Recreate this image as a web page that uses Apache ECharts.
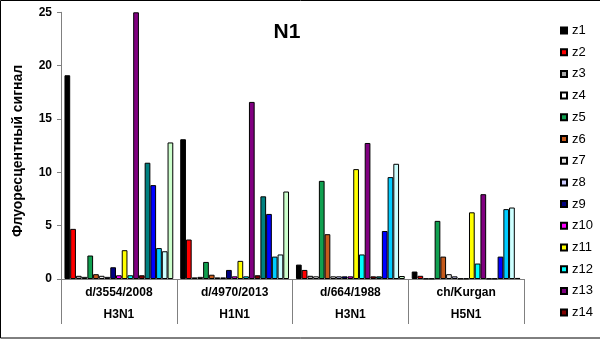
<!DOCTYPE html>
<html>
<head>
<meta charset="utf-8">
<script src="https://cdn.jsdelivr.net/npm/echarts@6/dist/echarts.min.js"></script>
<style>
  html, body { margin: 0; padding: 0; background: #fff; }
  #chart { width: 600px; height: 339px; }
</style>
</head>
<body>
<div id="chart"></div>
<script>
// Virus strains (first label row) and their subtypes (second label row)
const strains = ['d/3554/2008', 'd/4970/2013', 'd/664/1988', 'ch/Kurgan'];
const subtypes = ['H3N1', 'H1N1', 'H3N1', 'H5N1'];

// Fluorescent signal per probe, one value per strain
const z1  = [19.1, 13.1, 1.35, 0.7];
const z2  = [4.7, 3.7, 0.85, 0.3];
const z3  = [0.3, 0.15, 0.3, 0.05];
const z4  = [0.2, 0.2, 0.25, 0.05];
const z5  = [2.2, 1.6, 9.2, 5.45];
const z6  = [0.45, 0.4, 4.2, 2.1];
const z7  = [0.3, 0.15, 0.25, 0.45];
const z8  = [0.2, 0.15, 0.25, 0.25];
const z9  = [1.1, 0.85, 0.25, 0.05];
const z10 = [0.35, 0.25, 0.25, 0.05];
const z11 = [2.7, 1.7, 10.3, 6.25];
const z12 = [0.35, 0.25, 2.3, 1.45];
const z13 = [25, 16.6, 12.75, 7.95];
const z14 = [0.35, 0.35, 0.25, 0.05];
const z15 = [10.9, 7.75, 0.25, 0.05];
const z16 = [8.8, 6.1, 4.5, 2.1];
const z17 = [2.9, 2.1, 9.55, 6.55];
const z18 = [2.6, 2.3, 10.8, 6.7];
const z19 = [12.8, 8.2, 0.28, 0.1];

const probeNames = ['z1','z2','z3','z4','z5','z6','z7','z8','z9','z10',
                    'z11','z12','z13','z14','z15','z16','z17','z18','z19'];
const probeValues = [z1, z2, z3, z4, z5, z6, z7, z8, z9, z10,
                     z11, z12, z13, z14, z15, z16, z17, z18, z19];
const probeColors = ['#000000','#FF0000','#A6A6A6','#FFFFFF','#10A050','#C55A1C',
                     '#E6E6E6','#CCCCFF','#000080','#FF00FF','#FFFF00','#00FFFF',
                     '#800080','#800000','#008080','#0000FF','#00CCFF','#CCFFFF','#CCFFCC'];
// Only the first fourteen probes fit in the legend
const legendNames = probeNames.slice(0, 14);

const font = 'Arial, "Liberation Sans", sans-serif';

const chart = echarts.init(document.getElementById('chart'), null, { renderer: 'canvas' });

const series = probeNames.map((name, i) => ({
  name: name,
  type: 'bar',
  data: probeValues[i],
  barGap: '0%',
  barCategoryGap: '6%',
  itemStyle: {
    color: probeColors[i],
    borderColor: '#000',
    borderWidth: 1
  },
  emphasis: { disabled: true },
  animation: false
}));

chart.setOption({
  animation: false,
  backgroundColor: '#fff',
  title: {
    text: 'N1',
    left: 282,
    top: 17,
    textAlign: 'center',
    textStyle: { fontFamily: font, fontWeight: 'bold', fontSize: 21, color: '#000' }
  },
  grid: { left: 61, right: 76, top: 12.3, bottom: 60, containLabel: false },
  legend: {
    data: legendNames,
    orient: 'vertical',
    left: 555,
    top: 19,
    itemWidth: 6,
    itemHeight: 6,
    itemGap: 8.7,
    icon: 'rect',
    selectedMode: false,
    textStyle: { fontFamily: font, fontSize: 13, color: '#000', lineHeight: 13 }
  },
  xAxis: {
    type: 'category',
    data: strains,
    axisLine: { lineStyle: { color: '#808080', width: 1 } },
    axisTick: { show: true, length: 45, lineStyle: { color: '#808080', width: 1 } },
    axisLabel: {
      interval: 0,
      margin: 3,
      formatter: (v, idx) => '{a|' + v + '}\n{b|' + subtypes[idx] + '}',
      rich: {
        a: { fontFamily: font, fontWeight: 'bold', fontSize: 12, color: '#000', lineHeight: 22 },
        b: { fontFamily: font, fontWeight: 'bold', fontSize: 12, color: '#000', lineHeight: 22 }
      }
    }
  },
  yAxis: {
    type: 'value',
    min: 0,
    max: 25,
    interval: 5,
    axisLine: { show: true, lineStyle: { color: '#808080', width: 1 } },
    axisTick: { show: true, length: 4, lineStyle: { color: '#808080' } },
    splitLine: { show: false },
    axisLabel: { margin: 9, fontFamily: font, fontWeight: 'bold', fontSize: 12, color: '#000' }
  },
  graphic: [{
    type: 'rect',
    shape: { x: 0.5, y: 0.5, width: 600, height: 337.5 },
    style: { fill: 'none', stroke: '#000', lineWidth: 1 },
    silent: true
  }, {
    // Y-axis title, rotated to read bottom-to-top
    type: 'text',
    x: 18,
    y: 151,
    rotation: Math.PI / 2,
    style: {
      text: 'Флуоресцентный сигнал',
      fontFamily: font,
      fontWeight: 'bold',
      fontSize: 14,
      fill: '#000',
      align: 'center',
      verticalAlign: 'middle'
    },
    silent: true
  }],
  series: series
});
</script>
</body>
</html>
